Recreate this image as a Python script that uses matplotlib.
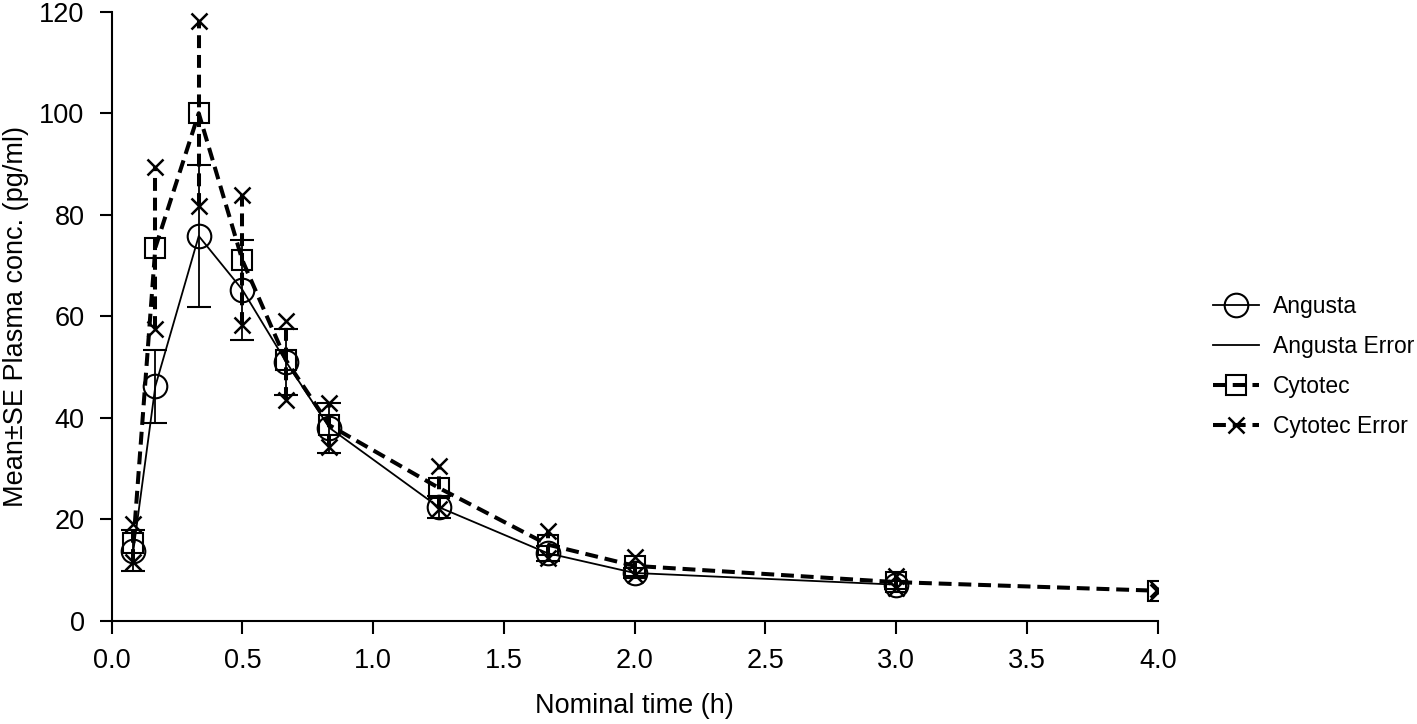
import matplotlib
matplotlib.use("Agg")
import matplotlib.pyplot as plt
from matplotlib.lines import Line2D
import numpy as np

plt.rcParams['font.family'] = ['Liberation Sans', 'DejaVu Sans']

# Data
time_angusta = [0.083, 0.167, 0.333, 0.5, 0.667, 0.833, 1.25, 1.667, 2.0, 3.0]
mean_angusta = [13.8, 46.2, 75.8, 65.2, 51.0, 38.0, 22.4, 13.3, 9.4, 7.1]
se_angusta = [4.1, 7.2, 13.9, 9.8, 6.5, 4.9, 2.1, 1.5, 1.0, 0.8]

time_cytotec = [0.083, 0.167, 0.333, 0.5, 0.667, 0.833, 1.25, 1.667, 2.0, 3.0, 4.0]
mean_cytotec = [15.3, 73.5, 100.0, 71.0, 51.3, 38.5, 26.2, 15.0, 10.8, 7.6, 5.9]
se_cytotec = [3.7, 16.0, 18.2, 12.8, 7.8, 4.3, 4.2, 2.6, 1.8, 1.2, 0.3]

x_ticks = [0.0, 0.5, 1.0, 1.5, 2.0, 2.5, 3.0, 3.5, 4.0]
y_ticks = [0, 20, 40, 60, 80, 100, 120]

FS = 19.5
LFS = 16.5
fig = plt.figure(figsize=(14.17, 7.24), dpi=100)
ax = fig.add_axes([0.0788, 0.1427, 0.7382, 0.8411])

dash = (3.2, 1.7)

# Angusta error bars (solid with caps)
ax.errorbar(time_angusta, mean_angusta, yerr=se_angusta, fmt='none',
            ecolor='black', elinewidth=1.3, capsize=8.5, capthick=1.5, zorder=2)
# Angusta mean line
ax.plot(time_angusta, mean_angusta, color='black', lw=1.3, marker='o',
        ms=17, mfc='none', mec='black', mew=1.5, zorder=3)

# Cytotec error (dashed verticals with x markers at ends)
for t, m, s in zip(time_cytotec, mean_cytotec, se_cytotec):
    ax.plot([t, t], [m - s, m + s], color='black', lw=2.9, dashes=dash,
            marker='x', ms=12, mew=1.8, zorder=4)
# Cytotec mean line
ax.plot(time_cytotec, mean_cytotec, color='black', lw=2.9, dashes=dash,
        marker='s', ms=14, mfc='none', mec='black', mew=1.5, zorder=5)

ax.set_xlim(0, 4.0)
ax.set_ylim(0, 120)
ax.set_xticks(x_ticks)
ax.set_xticklabels([f"{v:.1f}" for v in x_ticks])
ax.set_yticks(y_ticks)
ax.set_yticklabels([str(v) for v in y_ticks])
ax.spines['top'].set_visible(False)
ax.spines['right'].set_visible(False)
for sp in ['left', 'bottom']:
    ax.spines[sp].set_linewidth(1.5)
ax.tick_params(direction='out', length=9, width=1.5, labelsize=FS, pad=10.5)
ax.set_xlabel('Nominal time (h)', fontsize=FS, labelpad=14)
ax.set_ylabel('Mean±SE Plasma conc. (pg/ml)', fontsize=FS, labelpad=7)

handles = [
    Line2D([], [], color='black', lw=1.3, marker='o', ms=17, mfc='none', mew=1.5),
    Line2D([], [], color='black', lw=1.3),
    Line2D([], [], color='black', lw=2.9, dashes=dash, marker='s', ms=14, mfc='none', mew=1.5),
    Line2D([], [], color='black', lw=2.9, dashes=dash, marker='x', ms=12, mew=1.8),
]
labels = ['Angusta', 'Angusta Error', 'Cytotec', 'Cytotec Error']
fig.legend(handles, labels, loc='center left', bbox_to_anchor=(0.856, 0.494),
           frameon=False, fontsize=LFS, handlelength=2.0, handletextpad=0.6,
           labelspacing=0.75, borderpad=0, borderaxespad=0)

fig.savefig('out.png', dpi=100)
